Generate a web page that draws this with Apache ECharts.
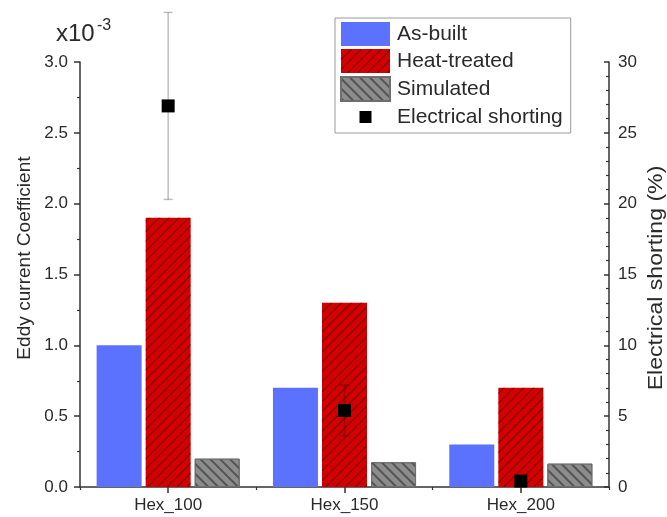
<!DOCTYPE html>
<html>
<head>
<meta charset="utf-8">
<script src="https://cdn.jsdelivr.net/npm/echarts@6/dist/echarts.min.js"></script>
<style>
html,body{margin:0;padding:0;background:#fff;}
#chart{width:667px;height:517px;}
</style>
</head>
<body>
<div id="chart"></div>
<script>
// ---- data ----
const categories = ['Hex_100', 'Hex_150', 'Hex_200'];
const asBuilt = [1.0, 0.7, 0.3];          // x10^-3
const heatTreated = [1.9, 1.3, 0.7];      // x10^-3
const simulated = [0.2, 0.175, 0.165];    // x10^-3
const shorting = [26.9, 5.4, 0.42];       // %
const shortingErr = [6.6, 1.8, 0.2];      // %
const leftTicks = ['0.0', '0.5', '1.0', '1.5', '2.0', '2.5', '3.0'];
const rightTicks = ['0', '5', '10', '15', '20', '25', '30'];

const FONT = 'Liberation Sans, Arial, sans-serif';
const TXT = '#2a2a2a';
const AX = '#333';

const errData = shorting.map((v, i) => [i, v - shortingErr[i], v + shortingErr[i]]);

const squareIcon = 'image://data:image/svg+xml;utf8,' + encodeURIComponent(
  '<svg xmlns="http://www.w3.org/2000/svg" width="49" height="24" viewBox="0 0 49 24"><rect x="18.5" y="6" width="12" height="12" fill="#000"/></svg>');

const chart = echarts.init(document.getElementById('chart'), null, {renderer: 'canvas'});
chart.setOption({
  animation: false,
  backgroundColor: '#fff',
  grid: [
    {left: 80, right: 58, top: 62, bottom: 30, containLabel: false},
    {left: 80, right: 58, top: 62, bottom: 30, containLabel: false}
  ],
  legend: {
    orient: 'vertical',
    left: 335, top: 18,
    itemWidth: 49, itemHeight: 24, itemGap: 3,
    padding: [4, 8, 4, 5],
    borderColor: '#9a9a9a', borderWidth: 1,
    textStyle: {fontFamily: FONT, fontSize: 21, color: TXT, padding: [0, 0, 0, 2]},
    data: [
      {name: 'As-built', icon: 'rect'},
      {name: 'Heat-treated', icon: 'rect'},
      {name: 'Simulated', icon: 'rect'},
      {name: 'Electrical shorting', icon: squareIcon}
    ]
  },
  xAxis: [
    {
      type: 'category', data: categories, gridIndex: 0,
      axisLine: {show: true, lineStyle: {color: AX, width: 1.5}},
      axisTick: {show: true, alignWithLabel: true, length: 6, lineStyle: {color: AX, width: 1.5}},
      axisLabel: {fontFamily: FONT, fontSize: 17, color: TXT, margin: 10},
      splitLine: {show: false}
    },
    {
      type: 'category', data: categories, gridIndex: 1, position: 'bottom',
      axisLine: {show: false},
      axisTick: {show: true, alignWithLabel: false, length: 3, lineStyle: {color: AX, width: 1.2}},
      axisLabel: {show: false},
      splitLine: {show: false}
    }
  ],
  yAxis: [
    {
      type: 'value', min: 0, max: 3, interval: 0.5, gridIndex: 0, position: 'left',
      axisLine: {show: true, lineStyle: {color: AX, width: 1.5}},
      axisTick: {show: true, length: 6, lineStyle: {color: AX, width: 1.5}},
      minorTick: {show: true, splitNumber: 2, length: 3, lineStyle: {color: AX, width: 1.2}},
      axisLabel: {fontFamily: FONT, fontSize: 17, color: TXT, margin: 12,
        formatter: (v) => leftTicks[Math.round(v / 0.5)]},
      splitLine: {show: false}
    },
    {
      type: 'value', min: 0, max: 30, interval: 5, gridIndex: 0, position: 'right',
      axisLine: {show: true, lineStyle: {color: AX, width: 1.5}},
      axisTick: {show: true, inside: true, length: 5, lineStyle: {color: AX, width: 1.5}},
      minorTick: {show: true, splitNumber: 5, length: 3, lineStyle: {color: AX, width: 1.2}},
      axisLabel: {fontFamily: FONT, fontSize: 17, color: TXT, margin: 9,
        formatter: (v) => rightTicks[Math.round(v / 5)]},
      splitLine: {show: false}
    },
    {
      type: 'value', min: 0, max: 3, gridIndex: 1, show: false
    }
  ],
  graphic: [
    {
      type: 'text', x: 56, y: 34.5, z: 10,
      style: {text: 'x10', fontFamily: FONT, fontSize: 24, fill: TXT, verticalAlign: 'middle', align: 'left'}
    },
    {
      type: 'text', x: 97, y: 26, z: 10,
      style: {text: '-3', fontFamily: FONT, fontSize: 16, fill: TXT, verticalAlign: 'middle', align: 'left'}
    },
    {
      type: 'text', x: 25, y: 258, rotation: Math.PI / 2, scaleX: 1.06, z: 10,
      style: {text: 'Eddy current Coefficient', fontFamily: FONT, fontSize: 18, fill: TXT,
        align: 'center', verticalAlign: 'middle'}
    },
    {
      type: 'text', x: 656, y: 278, rotation: Math.PI / 2, scaleX: 1.1, z: 10,
      style: {text: 'Electrical shorting (%)', fontFamily: FONT, fontSize: 21, fill: TXT,
        align: 'center', verticalAlign: 'middle'}
    }
  ],
  series: [
    {
      name: 'As-built', type: 'bar', xAxisIndex: 0, yAxisIndex: 0, data: asBuilt,
      barWidth: 45, barGap: '9%',
      itemStyle: {color: '#5a72ff'}
    },
    {
      name: 'Heat-treated', type: 'bar', xAxisIndex: 0, yAxisIndex: 0, data: heatTreated,
      barWidth: 45, barGap: '9%',
      itemStyle: {color: '#d20000',
        decal: {symbol: 'rect', symbolSize: 1, dashArrayX: [1, 0], dashArrayY: [1, 5.5],
          rotation: -Math.PI / 4, color: 'rgba(80,0,0,0.7)'}}
    },
    {
      name: 'Simulated', type: 'bar', xAxisIndex: 0, yAxisIndex: 0, data: simulated,
      barWidth: 45, barGap: '9%',
      itemStyle: {color: '#8c8c8c', borderColor: '#6e6e6e', borderWidth: 1,
        decal: {symbol: 'rect', symbolSize: 1, dashArrayX: [1, 0], dashArrayY: [1.5, 5],
          rotation: Math.PI / 4, color: 'rgba(60,60,60,0.7)'}}
    },
    {
      name: 'ErrBars', type: 'custom', xAxisIndex: 0, yAxisIndex: 1, data: errData,
      clip: false, z: 5, silent: true,
      renderItem: function (params, api) {
        const x = api.value(0);
        const top = api.coord([x, api.value(2)]);
        const bot = api.coord([x, api.value(1)]);
        const st = {stroke: 'rgba(0,0,0,0.25)', lineWidth: 1.5};
        const hw = 4.5;
        return {
          type: 'group', children: [
            {type: 'line', shape: {x1: top[0], y1: top[1], x2: bot[0], y2: bot[1]}, style: st},
            {type: 'line', shape: {x1: top[0] - hw, y1: top[1], x2: top[0] + hw, y2: top[1]}, style: st},
            {type: 'line', shape: {x1: bot[0] - hw, y1: bot[1], x2: bot[0] + hw, y2: bot[1]}, style: st}
          ]
        };
      }
    },
    {
      name: 'Electrical shorting', type: 'scatter', xAxisIndex: 0, yAxisIndex: 1, data: shorting,
      symbol: 'rect', symbolSize: 13, z: 6, clip: false,
      itemStyle: {color: '#000', opacity: 1}
    }
  ]
});
</script>
</body>
</html>
